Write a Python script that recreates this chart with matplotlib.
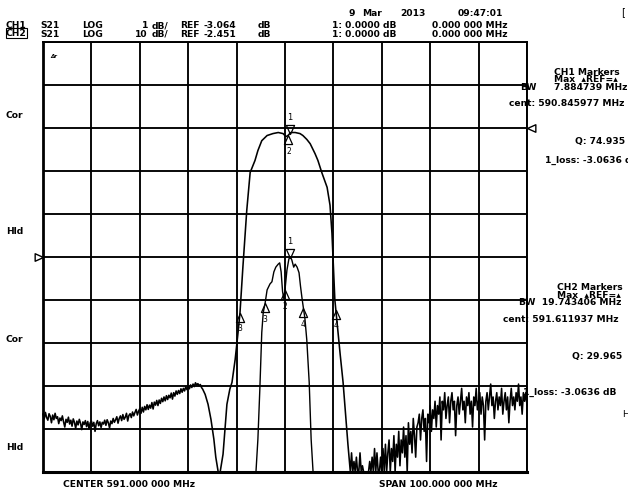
import numpy as np
import matplotlib
matplotlib.use("Agg")
import matplotlib.pyplot as plt
from matplotlib.path import Path

W, H = 628, 489

# ---------------- sweep / channel settings ----------------
f_start, f_stop = 541.0, 641.0          # MHz  (CENTER 591, SPAN 100)
n_div_x, n_div_y = 10, 10
ch1_ref_db, ch1_scale, ch1_ref_pos = -3.064, 1.0, 5     # 1 dB/div
ch2_ref_db, ch2_scale, ch2_ref_pos = -2.451, 10.0, 8    # 10 dB/div

# ---------------- CH2 trace (wide filter + stop band) ----------------
ch2_left_f = np.arange(541.0, 574.01, 0.25)
ch2_left_db = [
    -69.0, -70.1, -68.6, -69.8, -70.4, -68.9, -69.5, -71.0, -69.2, -70.3, -68.8, -70.0,
    -69.6, -71.2, -69.9, -70.5, -69.4, -70.8, -72.0, -70.2, -70.9, -69.7, -71.3, -70.4,
    -71.8, -70.1, -70.9, -72.3, -70.6, -71.5, -70.2, -71.1, -72.6, -70.8, -71.4, -70.5,
    -71.9, -70.7, -72.4, -71.0, -70.6, -71.8, -70.9, -73.0, -71.2, -70.5, -71.7, -70.8,
    -72.1, -70.9, -71.3, -70.4, -71.6, -70.3, -71.0, -72.2, -70.6, -71.2, -70.0, -70.9,
    -70.3, -69.6, -71.1, -70.0, -69.4, -70.5, -69.1, -70.2, -69.7, -68.8, -70.6, -69.3,
    -68.9, -69.8, -68.5, -69.4, -68.6, -67.9, -69.2, -68.3, -67.7, -68.8, -67.4, -68.5,
    -67.2, -68.0, -66.8, -67.9, -66.9, -67.6, -66.3, -67.8, -66.2, -66.9, -65.8, -67.0,
    -65.7, -66.5, -65.3, -66.1, -65.0, -65.9, -64.7, -65.6, -64.6, -65.2, -64.1, -65.5,
    -64.0, -64.8, -63.6, -64.4, -63.5, -64.2, -63.1, -63.9, -63.0, -63.6, -62.6, -63.3,
    -62.5, -63.1, -62.2, -62.8, -62.0, -62.6, -61.7, -62.2, -61.9, -62.4, -62.1, -62.8,
    -63.2]
ch2_pass_f = [574.5, 575.1, 575.7, 576.3, 576.7, 577.2, 577.6, 578.2, 578.6, 579.0,
              579.6, 580.05, 580.7, 581.3, 581.7, 582.3, 583.1, 583.8, 584.8, 585.4,
              586.2, 587.3, 588.5, 589.6, 590.6, 591.2, 591.6, 592.2, 593.1, 594.1,
              594.7, 595.5, 596.2, 597.2, 597.8, 598.6, 599.7, 600.3, 600.7, 601.3,
              601.7, 602.4, 603.0, 603.6, 604.0]
ch2_pass_db = [-64.4, -66.7, -70.2, -74.8, -79.0, -86.0, -84.0, -78.3, -72.5, -66.7,
               -63.2, -61.6, -56.3, -50.0, -45.4, -34.8, -21.6, -12.8, -10.0, -7.7,
               -5.4, -4.2, -3.75, -3.5, -3.75, -4.45, -4.2, -3.5, -3.5, -3.75,
               -4.2, -5.1, -6.1, -8.4, -10.0, -12.8, -16.25, -20.4, -26.9, -42.4,
               -47.0, -55.1, -61.6, -70.2, -76.0]
ch2_right_f = np.arange(604.5, 641.01, 0.25)
ch2_right_db = [
    -85, -78, -88, -80, -86, -79, -84, -90, -78, -87, -81, -85, -88, -84, -90, -86,
    -80, -88, -79, -85, -77, -86, -78, -84, -90, -79, -85, -77, -84, -76, -88, -78,
    -75, -86, -77, -80, -74, -84, -76, -79, -73, -81, -75, -78, -72, -79, -74, -83,
    -71, -76, -73, -78, -70, -74, -79, -72, -71, -69, -75, -70, -68, -73, -70, -80,
    -69, -71, -67, -73, -68, -70, -66, -72, -67, -69, -65, -75, -66, -68, -64, -70,
    -67, -65, -71, -66, -64, -68, -66, -74, -67, -65, -69, -66, -63, -68, -66, -71,
    -65, -67, -64, -69, -66, -72, -65, -67, -63, -68, -66, -64, -69, -65, -67, -75,
    -66, -64, -68, -65, -62, -67, -65, -70, -66, -64, -68, -65, -67, -63, -69, -66,
    -64, -68, -65, -71, -66, -63, -67, -65, -68, -64, -66, -62, -67, -65, -69, -64,
    -66, -64, -67]

# ---------------- CH1 trace (narrow filter) ----------------
ch1_f = [541.0, 585.0, 585.4, 585.8, 586.2, 586.5, 586.9, 587.3, 587.9, 588.3,
         588.7, 589.1, 589.6, 589.9, 590.2, 590.5, 590.8, 591.1, 591.4, 591.8,
         592.1, 592.4, 592.8, 593.1, 593.5, 593.9, 594.2, 594.5, 594.8, 595.1,
         595.5, 596.0, 596.4, 596.8, 641.0]
ch1_db = [-9.0, -9.0, -7.30, -6.14, -4.82, -4.36, -4.13, -3.83, -3.69, -3.64,
          -3.41, -3.30, -3.23, -3.20, -3.41, -3.87, -4.06, -3.71, -3.37, -3.11,
          -3.06, -3.13, -3.30, -3.23, -3.30, -3.43, -3.74, -4.01, -4.25, -4.48,
          -4.99, -5.98, -7.30, -9.0, -9.0]

# ---------------- markers ----------------
ch1_marker_names = ["1", "2", "3", "4"]
ch1_marker_f = [592.0, 591.0, 586.9, 594.8]
ch2_marker_names = ["1", "2", "3", "4"]
ch2_marker_f = [592.0, 591.7, 581.7, 601.5]


def to_div(db, ref_db, scale, ref_pos):
    d = ref_pos + (np.asarray(db, dtype=float) - ref_db) / scale
    return np.clip(d, 0.0, n_div_y)


fig = plt.figure(figsize=(W / 100, H / 100), dpi=100)
fig.patch.set_facecolor("white")
L, R, T, B = 43, 527, 43, 473
ax = fig.add_axes([L / W, 1 - B / H, (R - L) / W, (B - T) / H])
ax.set_xlim(f_start, f_stop)
ax.set_ylim(0, n_div_y)
ax.set_xticks(np.linspace(f_start, f_stop, n_div_x + 1))
ax.set_yticks(np.arange(0, n_div_y + 1))
ax.tick_params(length=0, labelbottom=False, labelleft=False)
ax.grid(True, color="black", linewidth=1.35)
for s in ax.spines.values():
    s.set_linewidth(1.4)
ax.spines["left"].set_linewidth(2.0)
ax.spines["bottom"].set_linewidth(2.2)
ax.set_axisbelow(True)

ch2_f = np.concatenate([ch2_left_f, ch2_pass_f, ch2_right_f])
ch2_db = np.concatenate([ch2_left_db, ch2_pass_db, ch2_right_db])
ch2_y = to_div(ch2_db, ch2_ref_db, ch2_scale, ch2_ref_pos)
ch1_y = to_div(ch1_db, ch1_ref_db, ch1_scale, ch1_ref_pos)

ax.plot(ch2_f, ch2_y, color="black", lw=1.15, clip_on=False, zorder=3)
ax.plot(ch1_f, ch1_y, color="black", lw=1.0, clip_on=False, zorder=3)

down_tri = Path([(0, 0), (-0.45, 1), (0.45, 1), (0, 0)],
                [Path.MOVETO, Path.LINETO, Path.LINETO, Path.CLOSEPOLY])
up_tri = Path([(0, 0), (-0.45, -1), (0.45, -1), (0, 0)],
              [Path.MOVETO, Path.LINETO, Path.LINETO, Path.CLOSEPOLY])
right_tri = Path([(0, 0), (-1, 0.45), (-1, -0.45), (0, 0)],
                 [Path.MOVETO, Path.LINETO, Path.LINETO, Path.CLOSEPOLY])
left_tri = Path([(0, 0), (1, 0.45), (1, -0.45), (0, 0)],
                [Path.MOVETO, Path.LINETO, Path.LINETO, Path.CLOSEPOLY])


def draw_markers(names, freqs, fx, fy):
    for name, f in zip(names, freqs):
        y = np.interp(f, fx, fy)
        if name == "1":
            ax.plot([f], [y], marker=down_tri, ms=13, mfc="none", mec="black",
                    mew=0.9, zorder=4)
            ax.annotate(name, (f, y), xytext=(0, 12.5), textcoords="offset points",
                        ha="center", va="center", fontsize=6, family="DejaVu Sans")
        else:
            ax.plot([f], [y], marker=up_tri, ms=13, mfc="none", mec="black",
                    mew=0.9, zorder=4)
            ax.annotate(name, (f, y), xytext=(0, -11), textcoords="offset points",
                        ha="center", va="center", fontsize=5.5, family="DejaVu Sans")


draw_markers(ch2_marker_names, ch2_marker_f, ch2_f, ch2_y)
draw_markers(ch1_marker_names, ch1_marker_f, ch1_f, ch1_y)

# reference position indicators (tip on the frame)
ax.plot([f_start], [ch1_ref_pos], marker=right_tri, ms=12, mfc="white", mec="black",
        mew=1.0, clip_on=False, zorder=5)
ax.plot([f_stop], [ch2_ref_pos], marker=left_tri, ms=12, mfc="white", mec="black",
        mew=1.0, clip_on=False, zorder=5)

FONT = "DejaVu Sans"


def put(x, y, s, size=6.6, ha="left", weight="bold", **kw):
    return fig.text(x / W, 1 - y / H, s, ha=ha, va="center", fontsize=size,
                    family=FONT, weight=weight, **kw)


# header
put(352, 13, "9", ha="center")
put(372, 13, "Mar", ha="center")
put(413, 13, "2013", ha="center")
put(480, 13, "09:47:01", ha="center")
put(6, 26, "CH1")
put(6, 34, "CH2", bbox=dict(boxstyle="square,pad=0.05", fc="white", ec="black", lw=0.8))
put(40, 30, "S21\nS21", linespacing=0.95)
put(82, 30, "LOG\nLOG", linespacing=0.95)
put(148, 30, "1\n10", ha="right", multialignment="right", linespacing=0.95)
put(152, 30, "dB/\ndB/", linespacing=0.95)
put(180, 30, "REF\nREF", linespacing=0.95)
put(204, 30, "-3.064\n-2.451", linespacing=0.95)
put(258, 30, "dB\ndB", linespacing=0.95)
put(332, 30, "1: 0.0000 dB\n1: 0.0000 dB", linespacing=0.95)
put(432, 30, "0.000 000 MHz\n0.000 000 MHz", linespacing=0.95)
put(621, 12, "[", size=7, weight="normal")

# left side status labels
put(6, 115, "Cor")
put(6, 232, "Hld")
put(6, 340, "Cor")
put(6, 447, "Hld")
put(50, 57, "Δr", size=4, style="italic")

# CH1 marker block
put(554, 80, "CH1 Markers\nMax  \u25b4REF=\u25b4\n7.884739 MHz", linespacing=0.85)
put(520, 87, "BW")
put(509, 104, "cent: 590.845977 MHz")
put(575, 142, "Q: 74.935")
put(545, 160, "1_loss: -3.0636 dB")

# CH2 marker block
put(557, 291.5, "CH2 Markers\nMax  \u25b4REF=\u25b4", linespacing=0.85)
put(519, 303, "BW  19.743406 MHz")
put(503, 320, "cent: 591.611937 MHz")
put(572, 356, "Q: 29.965")
put(523, 392, "1_loss: -3.0636 dB")
put(622, 415, "H", weight="normal")

# footer
put(63, 485, "CENTER 591.000 000 MHz")
put(379, 485, "SPAN 100.000 000 MHz")

fig.savefig("out.png", dpi=100)
